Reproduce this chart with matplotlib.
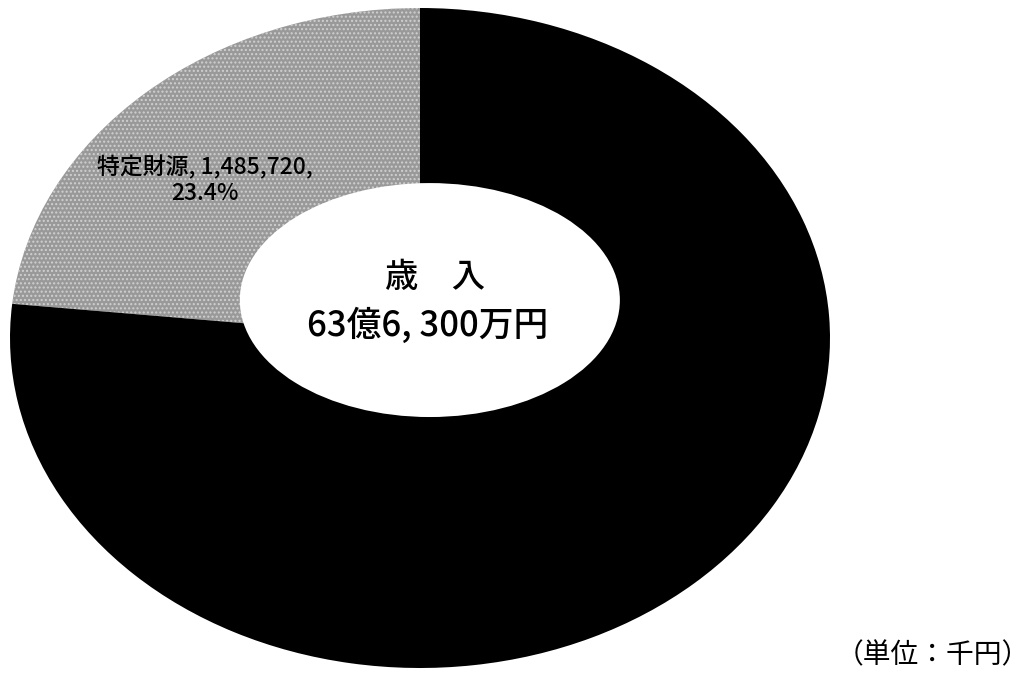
import matplotlib.pyplot as plt
from matplotlib.patches import Ellipse

plt.rcParams['font.family'] = ['Noto Sans CJK JP', 'DejaVu Sans']

# 歳入の内訳 (単位: 千円)
categories = ['特定財源', '一般財源']
values = [1485720, 4877280]
pct_labels = ['23.4%', '76.6%']
total_label = '63億6, 300万円'

fig = plt.figure(figsize=(10.33, 6.89), dpi=100)

# ドーナツ本体 (横長の楕円になるよう軸を配置)
ax = fig.add_axes([10 / 1033, 21 / 689, 820 / 1033, 660 / 689])
wedges, _ = ax.pie(values, startangle=90, counterclock=True, radius=1,
                   colors=['#999999', '#000000'],
                   wedgeprops=dict(linewidth=0))
wedges[0].set_hatch('....')
wedges[0].set_edgecolor('#d0d0d0')
wedges[0].set_linewidth(0)
ax.set_aspect('auto')
ax.set_xlim(-1, 1)
ax.set_ylim(-1, 1)
ax.axis('off')

# 中央の穴 (少し上にずれている)
hole = Ellipse((0.024, 0.115), 0.927, 0.709, facecolor='white', edgecolor='none', zorder=5)
ax.add_patch(hole)

fig.text(205 / 1033, 1 - 180 / 689,
         '%s, %s,\n%s' % (categories[0], format(values[0], ','), pct_labels[0]),
         ha='center', va='center', fontsize=16.5, fontweight='medium',
         linespacing=1.1, color='black')

fig.text(435 / 1033, 1 - 277 / 689, '歳　入', ha='center', va='center',
         fontsize=24, fontweight='medium', color='black', zorder=10)
fig.text(428 / 1033, 1 - 326 / 689, total_label, ha='center', va='center',
         fontsize=25, fontweight='medium', color='black', zorder=10)

fig.text(1030 / 1033, 1 - 655 / 689, '（単位：千円）', ha='right', va='center',
         fontsize=20, color='black')

fig.savefig('out.png', dpi=100, facecolor='white')
